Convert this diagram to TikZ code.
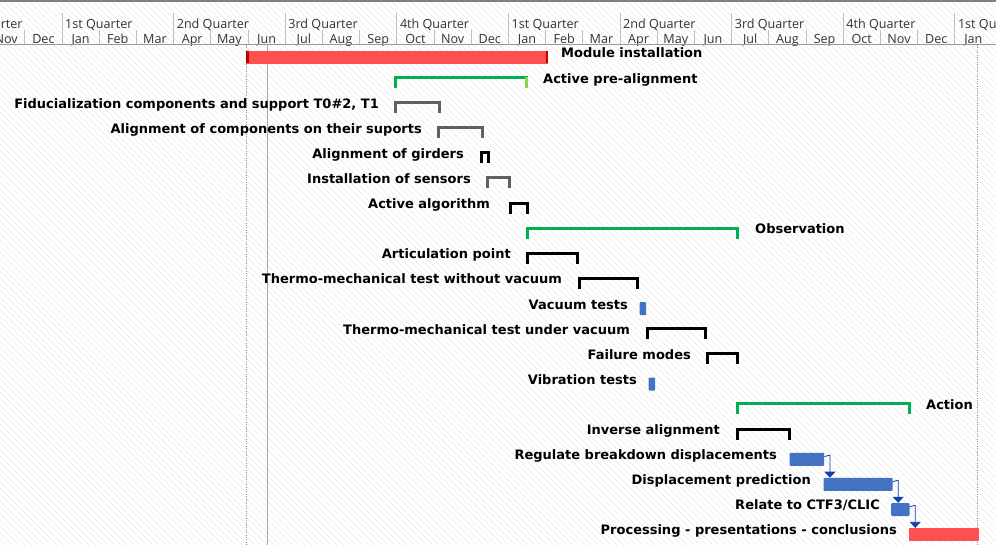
\documentclass[tikz,border=0pt]{standalone}
\usepackage{fontspec}
\setmainfont{Open Sans}
\newfontfamily\taskfont{DejaVu Sans}
\usetikzlibrary{arrows.meta,patterns.meta}
\definecolor{barred}{HTML}{FF5050}
\definecolor{darkred}{HTML}{C00000}
\definecolor{grpgreen}{HTML}{00B050}
\definecolor{litegreen}{HTML}{92D050}
\definecolor{barblue}{HTML}{4472C4}
\definecolor{linkblue}{HTML}{1440A8}
\definecolor{brkgray}{HTML}{606060}
\definecolor{gridgray}{HTML}{BFBFBF}
\definecolor{todaygreen}{HTML}{8FBC8F}
\def\brk[#1](#2:#3:#4){\draw[#1] (#2+1.5,#4+10) -- (#2+1.5,#4-0.5) -- (#3-1.5,#4-0.5) -- (#3-1.5,#4+10);}

\begin{document}
\begin{tikzpicture}[x=1pt,y=-1pt,
	lbl/.style={font=\taskfont\fontsize{13}{15}\bfseries\selectfont, inner sep=0pt, anchor=base east},
	sumlbl/.style={lbl, anchor=base west},
	hdr/.style={font=\fontsize{12.6}{14}\selectfont, text=black!80, inner sep=0pt, anchor=base},
	grid/.style={draw=gridgray, line width=1pt},
	taskbar/.style={fill=barblue, inner sep=0pt, minimum height=13pt, anchor=north west, rounded corners=0.8pt},
	redbar/.style={fill=barred, inner sep=0pt, minimum height=12.5pt, anchor=north west},
	grp/.style={draw=grpgreen, line width=3pt},
	sub/.style={draw=black, line width=3pt},
	subgray/.style={draw=brkgray, line width=3pt},
	link/.style={draw=linkblue, line width=0.8pt, -{Triangle[width=11pt,length=6pt]}}]
	%%%%% START %%%%%
	\useasboundingbox (0,0) rectangle (996,545);
	\begin{scope}
		\clip (0,0) rectangle (996,545);
		\fill[white] (0,0) rectangle (996,545);
		\fill[pattern={Lines[angle=-45,distance=4.5pt,line width=0.5pt]}, pattern color=black!9] (0,0) rectangle (996,545);
		
		% timescale
		\draw[black!50, line width=2pt] (0,1) -- (996,1);
		\foreach \q [count=\i from 0] in {4th,1st,2nd,3rd,4th,1st,2nd,3rd,4th,1st}{
			\draw[grid] ({62+111.6*(\i-1)},13) -- ({62+111.6*(\i-1)},44);
			\node[hdr, anchor=base west] (q\i) at ({65+111.6*(\i-1)},29) {\q{} Quarter};
		}
		\foreach \n [count=\i from 0] in {Nov,Dec,Jan,Feb,Mar,Apr,May,Jun,Jul,Aug,Sep,Oct,Nov,Dec,Jan,Feb,Mar,Apr,May,Jun,Jul,Aug,Sep,Oct,Nov,Dec,Jan}{
			\draw[grid] ({62+37.2*(\i-2)},30) -- ({62+37.2*(\i-2)},44);
			\node[hdr] (m\i) at ({62+37.2*(\i-1.5)},43.5) {\n};
		}
		\draw[black!40, line width=1pt] (0,44.5) -- (996,44.5);
		
		% project start, today, project end
		\draw[black!45, dotted] (246,45) -- (246,545);
		\draw[todaygreen, line width=0.8pt] (267.7,45) -- (267.7,545);
		\draw[black!45, dotted] (976.7,45) -- (976.7,545);
		
		% Module installation
		\node[redbar, minimum width=302pt] (mod) at (246,51) {};
		\fill[darkred] (mod.north west) rectangle ++(2.5,12.5);
		\fill[darkred] (mod.north east) rectangle ++(-2.5,12.5);
		\node[sumlbl] (modl) at (561,58) {Module installation};
		
		% Active pre-alignment
		\brk[grp](393.5:528:78.1)
		\fill[litegreen] (525,76.6) rectangle (528,88.1);
		\node[sumlbl] (prel) at (543,83.1) {Active pre-alignment};
		\brk[subgray](393.5:440.5:103.2)
		\node[lbl] (fidl) at (379,108.2) {Fiducialization components and support T0\#2, T1};
		\brk[subgray](437:484:128.3)
		\node[lbl] (supl) at (422,133.3) {Alignment of components on their suports};
		\brk[sub](480:490:153.4)
		\node[lbl] (girl) at (464,158.4) {Alignment of girders};
		\brk[subgray](486:511:178.5)
		\node[lbl] (senl) at (471,183.5) {Installation of sensors};
		\brk[sub](509.3:529:203.6)
		\node[lbl] (algl) at (490,208.6) {Active algorithm};
		
		% Observation
		\brk[grp](526:739.3:228.7)
		\node[sumlbl] (obsl) at (755,233.7) {Observation};
		\brk[sub](526:579:253.8)
		\node[lbl] (artl) at (511,258.8) {Articulation point};
		\brk[sub](578.3:638.7:278.9)
		\node[lbl] (tmol) at (562,283.9) {Thermo-mechanical test without vacuum};
		\node[taskbar, minimum width=6.5pt] (vac) at (639.5,302) {};
		\node[lbl] (vacl) at (628,309) {Vacuum tests};
		\brk[sub](646:706.7:329.1)
		\node[lbl] (tmul) at (630,334.1) {Thermo-mechanical test under vacuum};
		\brk[sub](706:739.3:354.2)
		\node[lbl] (fail) at (691,359.2) {Failure modes};
		\node[taskbar, minimum width=6.5pt] (vib) at (648.3,377.3) {};
		\node[lbl] (vibl) at (637,384.3) {Vibration tests};
		
		% Action
		\brk[grp](735.5:910.7:404.4)
		\node[sumlbl] (actl) at (926,409.4) {Action};
		\brk[sub](735.7:790.7:429.5)
		\node[lbl] (invl) at (720,434.5) {Inverse alignment};
		\node[taskbar, minimum width=34.7pt] (reg) at (789.3,452.6) {};
		\node[lbl] (regl) at (777,459.6) {Regulate breakdown displacements};
		\node[taskbar, minimum width=69pt] (disp) at (823.3,477.7) {};
		\node[lbl] (displ) at (811,484.7) {Displacement prediction};
		\node[taskbar, minimum width=18.3pt] (ctf) at (891,502.8) {};
		\node[lbl] (ctfl) at (880,509.8) {Relate to CTF3/CLIC};
		\node[redbar, minimum width=70pt, minimum height=13pt] (proc) at (909,527.9) {};
		\node[lbl] (procl) at (897,534.9) {Processing - presentations - conclusions};
		
		% links
		\draw[link] ([yshift=-4pt]reg.north east) -- ++(5.5,-1.5) coordinate (k1) -- (k1 |- disp.north);
		\draw[link] ([yshift=-4pt]disp.north east) -- ++(5.5,-1.5) coordinate (k2) -- (k2 |- ctf.north);
		\draw[link] ([yshift=-4pt]ctf.north east) -- ++(5.5,-1.5) coordinate (k3) -- (k3 |- proc.north);
	\end{scope}
	%%%%% END %%%%%
\end{tikzpicture}
\end{document}
